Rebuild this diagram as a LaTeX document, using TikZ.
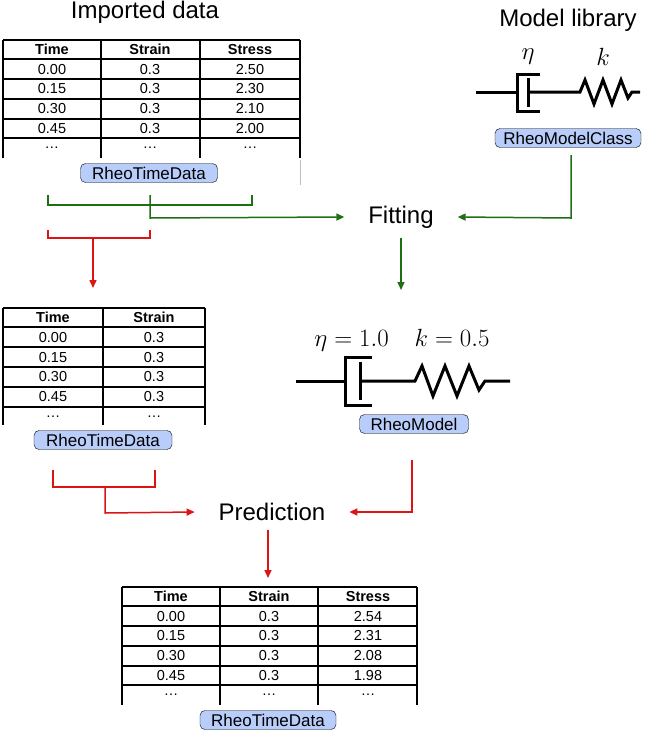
\documentclass[tikz,border=0pt]{standalone}
\usepackage{fontspec}
\setmainfont{Liberation Sans}
\usetikzlibrary{arrows.meta}
\definecolor{gr}{RGB}{30,110,20}
\definecolor{rd}{RGB}{220,20,20}
\definecolor{lb}{RGB}{185,205,250}
\tikzset{
 cell/.style={font=\fontsize{14.5}{16}\selectfont},
 hcell/.style={font=\fontsize{14.5}{16}\selectfont\bfseries},
 lbl/.style={draw=black,fill=lb,rounded corners=5pt,font=\fontsize{17}{19}\selectfont,inner sep=2pt,minimum height=19pt},
 ttl/.style={font=\fontsize{24}{27}\selectfont,inner xsep=2pt,outer xsep=22pt,outer ysep=6pt},
 tab/.style={line width=1.3pt},
 grl/.style={gr,line width=1.5pt},
 rdl/.style={rd,line width=1.5pt},
 arr/.style={-{Triangle[length=8pt,width=7pt]}},
 mech/.style={line width=3pt},
}
\begin{document}
\begin{tikzpicture}[x=1pt,y=-1pt]
\useasboundingbox (0,0) rectangle (665,732);
% ---------- titles
\node[font=\fontsize{24}{27}\selectfont] (t1) at (145,12) {Imported data};
\node[font=\fontsize{24}{27}\selectfont] (t2) at (568,20) {Model library};
% ---------- table 1
\foreach \yy in {40,59,79,99,119,138} \draw[tab] (3,\yy) -- (300,\yy);
\foreach \xx in {3,101,200,300} \draw[tab] (\xx,40) -- (\xx,158);
\draw[black!25] (300,160) -- (300,185);
\foreach \c/\x in {Time/52,Strain/150,Stress/250} \node[hcell] (a\c) at (\x,49.5) {\c};
\foreach \a/\b/\cc [count=\i] in {0.00/0.3/2.50,0.15/0.3/2.30,0.30/0.3/2.10,0.45/0.3/2.00,\dots/\dots/\dots}{
  \node[cell] (ar\i a) at (52,49.5+\i*19.7) {\a};
  \node[cell] (ar\i b) at (150,49.5+\i*19.7) {\b};
  \node[cell] (ar\i c) at (250,49.5+\i*19.7) {\cc};
}
\node[lbl,minimum width=137pt] (L1) at (149,173) {RheoTimeData};
% ---------- model class
\draw[mech] (476,92) -- (517,92);
\draw[mech] (540,74) -- (517,74) -- (517,111) -- (540,111);
\draw[mech] (528,78) -- (528,107);
\draw[mech] (528,92) -- (580,92) -- (585,80) -- (594,104) -- (603,80) -- (612,104) -- (621,80) -- (628,98) -- (632,92) -- (640,92);
\node[font=\fontsize{24}{27}\selectfont] (eta1) at (528,57) {$\eta$};
\node[font=\fontsize{24}{27}\selectfont] (k1) at (603,57) {$k$};
\node[lbl,minimum width=146pt] (L2) at (568,138) {RheoModelClass};
% ---------- fitting
\node[ttl] (fit) at (401,217) {Fitting};
\coordinate (g1) at (48,195); \coordinate (g2) at (252,195); \coordinate (g3) at (150,195);
\draw[grl] (g1) -- (48,205) -- (252,205) -- (g2);
\draw[grl,arr] (g3) -- (150,218) -- (fit.west);
\coordinate (g4) at (571,155);
\draw[grl,arr] (g4) -- (571,218) -- (fit.east);
\coordinate (r1) at (48,230); \coordinate (r2) at (150,230);
\draw[rdl] (r1) -- (48,238) -- (150,238) -- (r2);
\coordinate (r3) at (93,288);
\draw[rdl,arr] (93,238) -- (r3);
\coordinate (f2) at (401,290);
\draw[grl,arr] (fit.south) -- (f2);
% ---------- table 2
\foreach \yy in {308,327,347,367,387,407} \draw[tab] (3,\yy) -- (205,\yy);
\foreach \xx in {3,103,205} \draw[tab] (\xx,308) -- (\xx,425);
\foreach \c/\x in {Time/53,Strain/154} \node[hcell] (b\c) at (\x,317.5) {\c};
\foreach \a/\b [count=\i] in {0.00/0.3,0.15/0.3,0.30/0.3,0.45/0.3,\dots/\dots}{
  \node[cell] (br\i a) at (53,317.5+\i*19.8) {\a};
  \node[cell] (br\i b) at (154,317.5+\i*19.8) {\b};
}
\node[lbl,minimum width=138pt] (L3) at (103,440) {RheoTimeData};
% ---------- fitted model
\node[font=\fontsize{26}{29}\selectfont] (par) at (402,340) {$\eta = 1.0\quad k = 0.5$};
\draw[mech] (296,381) -- (345,381);
\draw[mech] (372,357) -- (345,357) -- (345,405) -- (372,405);
\draw[mech] (360,362) -- (360,400);
\draw[mech] (360,381) -- (415,381) -- (422,366) -- (433,396) -- (445,366) -- (457,396) -- (469,366) -- (479,390) -- (485,381) -- (510,381);
\node[lbl,minimum width=109pt] (L4) at (414,424) {RheoModel};
% ---------- prediction
\node[ttl] (pred) at (272,512) {Prediction};
\coordinate (s1) at (53,470); \coordinate (s2) at (155,470);
\draw[rdl] (s1) -- (53,487) -- (155,487) -- (s2);
\draw[rdl,arr] (105,487) -- (105,513) -- (pred.west);
\coordinate (m1) at (412,460);
\draw[rdl,arr] (m1) -- (412,512) -- (pred.east);
\coordinate (p2) at (268,578);
\draw[rdl,arr] (pred.south -| p2) -- (p2);
% ---------- table 3
\foreach \yy in {587,606,626,646,666,685} \draw[tab] (122,\yy) -- (417,\yy);
\foreach \xx in {122,220,318,417} \draw[tab] (\xx,587) -- (\xx,705);
\foreach \c/\x in {Time/171,Strain/269,Stress/368} \node[hcell] (c\c) at (\x,596.5) {\c};
\foreach \a/\b/\cc [count=\i] in {0.00/0.3/2.54,0.15/0.3/2.31,0.30/0.3/2.08,0.45/0.3/1.98,\dots/\dots/\dots}{
  \node[cell] (cr\i a) at (171,596.5+\i*19.7) {\a};
  \node[cell] (cr\i b) at (269,596.5+\i*19.7) {\b};
  \node[cell] (cr\i c) at (368,596.5+\i*19.7) {\cc};
}
\node[lbl,minimum width=136pt] (L5) at (268,720) {RheoTimeData};
\end{tikzpicture}
\end{document}
